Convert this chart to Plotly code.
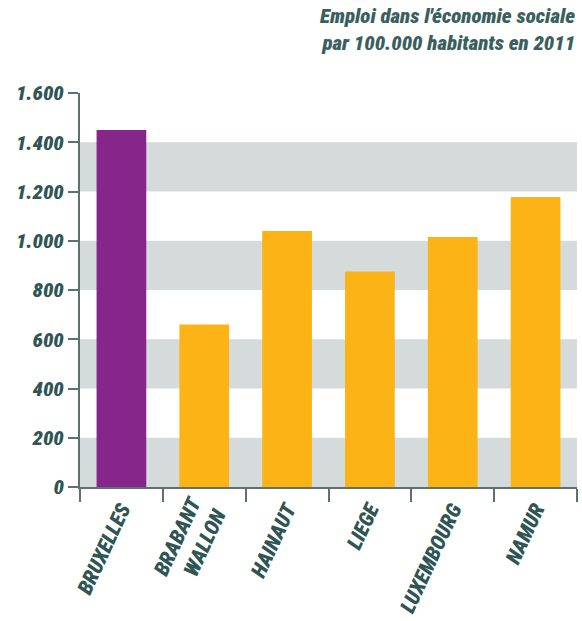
import plotly.graph_objects as go

# Emploi dans l'économie sociale par 100.000 habitants (2011)
regions = ["BRUXELLES", "BRABANT<br>WALLON", "HAINAUT", "LIEGE", "LUXEMBOURG", "NAMUR"]
emplois = [1450, 660, 1040, 875, 1015, 1178]
bar_colors = ["#86268a", "#fbb316", "#fbb316", "#fbb316", "#fbb316", "#fbb316"]
y_ticks = [0, 200, 400, 600, 800, 1000, 1200, 1400, 1600]

TEXT = "#2f5554"
AXIS = "#5d7171"
BAND = "#d5dadb"
FONT = "Roboto Condensed, Liberation Sans Narrow, DejaVu Sans Condensed, sans-serif"

fig = go.Figure(
    go.Bar(
        x=regions,
        y=emplois,
        marker=dict(color=bar_colors, line=dict(width=0)),
        width=0.6,
        hoverinfo="x+y",
    )
)

# alternating grey bands behind the bars
shapes = []
for lo, hi in zip(y_ticks[0::2], y_ticks[1::2]):
    shapes.append(dict(
        type="rect", xref="paper", yref="y", x0=0, x1=1, y0=lo, y1=hi,
        fillcolor=BAND, line=dict(width=0), layer="below",
    ))

fig.update_layout(
    width=582, height=621,
    margin=dict(l=80, r=5, t=93, b=134),
    paper_bgcolor="white", plot_bgcolor="white",
    separators=",.",
    showlegend=False,
    shapes=shapes,
    bargap=0.4,
    font=dict(family=FONT, color=TEXT),
    annotations=[dict(
        text="Emploi dans l'économie sociale<br>par 100.000 habitants en 2011",
        xref="paper", yref="paper", x=1.0, y=1.0, xanchor="right", yanchor="bottom",
        yshift=36, align="right", showarrow=False,
        font=dict(family=FONT, size=21, color="#3a5f5e", weight=900, style="italic"),
    )],
)

fig.update_yaxes(
    range=[0, 1600], tickvals=y_ticks, tickformat=",d",
    showgrid=False, zeroline=False, automargin=False,
    showline=True, linecolor=AXIS, linewidth=2,
    ticks="outside", ticklen=10, tickwidth=2, tickcolor=AXIS,
    tickfont=dict(family=FONT, size=21, color=TEXT, weight=900, style="italic"),
)
fig.update_xaxes(
    showgrid=False, showline=True, linecolor=AXIS, linewidth=2, automargin=False,
    ticks="outside", tickson="boundaries", ticklen=13, tickwidth=2, tickcolor=AXIS,
    tickangle=-65,
    tickfont=dict(family=FONT, size=21, color=TEXT, weight=900, style="italic"),
)

fig.write_html("out.html")
